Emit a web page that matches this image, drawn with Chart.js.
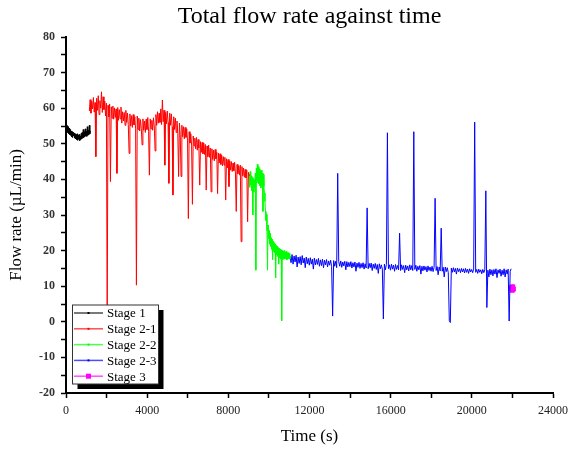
<!DOCTYPE html>
<html>
<head>
<meta charset="utf-8">
<script src="https://cdn.jsdelivr.net/npm/chart.js@4.4.0/dist/chart.umd.min.js"></script>
<style>
  html, body { margin: 0; padding: 0; background: #fff; }
  #wrap { width: 574px; height: 451px; position: relative; }
</style>
</head>
<body>
<div id="wrap"><canvas id="flow"></canvas></div>
<script>
// chart texts
const chartTitle = "Total flow rate against time";
const xTitle = "Time (s)";
const yTitle = "Flow rate (\u00b5L/min)";
const stageNames = ["Stage 1", "Stage 2-1", "Stage 2-2", "Stage 2-3", "Stage 3"];
const stageColors = ["#000000", "#ff0000", "#00ff00", "#0000ff", "#ff00ff"];

// axis ticks
const xTicks = [0, 4000, 8000, 12000, 16000, 20000, 24000];
const yTicks = [-20, -10, 0, 10, 20, 30, 40, 50, 60, 70, 80];

// Stage 1 (black)
const stage1Time = [0, 25, 50, 75, 100, 125, 150, 175, 200, 225,
  250, 275, 300, 325, 350, 375, 400, 425, 450, 475,
  500, 525, 550, 575, 600, 625, 650, 675, 700, 725,
  750, 775, 800, 825, 850, 875, 900, 925, 950, 975,
  1000, 1025, 1050, 1075, 1100, 1125, 1150, 1175, 1200];
const stage1Flow = [55.6, 53.8, 55.1, 53.2, 54.8, 52.9, 54.4, 52.6, 54.0, 52.4,
  53.6, 52.0, 53.4, 51.8, 53.2, 52.2, 53.0, 51.6, 52.8, 51.4,
  52.6, 51.2, 52.8, 51.0, 52.4, 51.3, 52.6, 50.9, 52.2, 51.2,
  52.9, 51.4, 53.2, 51.6, 54.0, 51.8, 53.4, 52.0, 54.2, 52.2,
  53.6, 52.1, 54.8, 52.4, 53.8, 52.6, 55.2, 52.8, 53.6];

// Stage 2-1 (red)
const stage21Time = [1150, 1190, 1230, 1270, 1310, 1350, 1390, 1430, 1470, 1510,
  1550, 1590, 1630, 1670, 1710, 1750, 1790, 1830, 1870, 1910,
  1950, 1990, 2030, 2070, 2110, 2150, 2190, 2230, 2270, 2310,
  2350, 2390, 2430, 2470, 2510, 2550, 2590, 2630, 2670, 2710,
  2750, 2790, 2830, 2870, 2910, 2950, 2990, 3030, 3070, 3110,
  3150, 3190, 3230, 3270, 3310, 3350, 3390, 3430, 3470, 3510,
  3550, 3590, 3630, 3670, 3710, 3750, 3790, 3830, 3870, 3910,
  3950, 3990, 4030, 4070, 4110, 4150, 4190, 4230, 4270, 4310,
  4350, 4390, 4430, 4470, 4510, 4550, 4590, 4630, 4670, 4710,
  4750, 4790, 4830, 4870, 4910, 4950, 4990, 5030, 5070, 5110,
  5150, 5190, 5230, 5270, 5310, 5350, 5390, 5430, 5470, 5510,
  5550, 5590, 5630, 5670, 5710, 5750, 5790, 5830, 5870, 5910,
  5950, 5990, 6030, 6070, 6110, 6150, 6190, 6230, 6270, 6310,
  6350, 6390, 6430, 6470, 6510, 6550, 6590, 6630, 6670, 6710,
  6750, 6790, 6830, 6870, 6910, 6950, 6990, 7030, 7070, 7110,
  7150, 7190, 7230, 7270, 7310, 7350, 7390, 7430, 7470, 7510,
  7550, 7590, 7630, 7670, 7710, 7750, 7790, 7830, 7870, 7910,
  7950, 7990, 8030, 8070, 8110, 8150, 8190, 8230, 8270, 8310,
  8350, 8390, 8430, 8470, 8510, 8550, 8590, 8630, 8670, 8710,
  8750, 8790, 8830, 8870, 8910, 8950, 8990, 9030];
const stage21Flow = [59.2, 62.4, 58.6, 61.9, 59.8, 63.0, 58.9, 61.6, 46.4, 62.8,
  59.4, 63.5, 58.2, 62.1, 60.0, 64.6, 58.8, 63.2, 59.6, 62.0,
  57.8, 61.4, 1.5, 60.8, 57.6, 61.2, 39.4, 60.4, 57.2, 60.6,
  56.9, 60.1, 57.4, 59.8, 41.7, 60.2, 56.6, 59.6, 57.0, 60.3,
  55.8, 59.0, 56.4, 58.8, 55.2, 59.4, 56.0, 58.6, 55.4, 47.3,
  58.4, 55.0, 57.9, 54.6, 58.2, 55.3, 57.6, 54.2, 10.3, 57.8,
  54.0, 57.2, 53.6, 56.8, 54.4, 49.7, 57.0, 53.8, 56.4, 53.2,
  56.9, 54.0, 57.4, 53.4, 41.2, 57.0, 54.2, 56.6, 53.8, 57.3,
  55.0, 48.0, 58.2, 55.2, 59.0, 55.8, 58.6, 56.0, 59.8, 55.4,
  62.3, 56.2, 59.4, 44.0, 58.8, 55.6, 59.2, 56.0, 38.9, 58.6,
  55.2, 58.4, 54.8, 35.6, 57.6, 54.0, 57.2, 53.2, 56.4, 52.8,
  40.8, 55.8, 52.6, 40.8, 55.2, 52.0, 54.8, 51.4, 54.6, 51.8,
  54.2, 50.8, 29.0, 53.4, 50.2, 52.8, 49.6, 33.0, 52.2, 49.4,
  51.6, 48.6, 51.8, 48.2, 51.2, 48.8, 38.4, 50.6, 47.6, 50.4,
  47.2, 50.2, 47.0, 49.8, 37.0, 49.4, 46.4, 49.6, 46.2, 48.8,
  36.5, 48.6, 45.6, 48.2, 45.2, 48.4, 45.8, 47.6, 36.0, 47.4,
  44.6, 47.2, 44.2, 46.8, 43.8, 46.4, 44.0, 46.2, 34.2, 45.8,
  43.2, 45.6, 38.0, 45.2, 42.6, 45.0, 42.2, 44.6, 42.4, 44.8,
  41.8, 31.0, 44.2, 41.6, 43.8, 41.2, 44.0, 22.5, 43.6, 41.0,
  43.2, 40.6, 42.8, 40.4, 42.6, 28.1, 42.0, 41.0];

// Stage 2-2 (green)
const stage22Time = [9030, 9055, 9080, 9105, 9130, 9155, 9180, 9205, 9230, 9255,
  9280, 9305, 9330, 9355, 9380, 9405, 9430, 9455, 9480, 9505,
  9530, 9555, 9580, 9605, 9630, 9655, 9680, 9705, 9730, 9755,
  9780, 9805, 9830, 9855, 9880, 9905, 9930, 9955, 9980, 10005,
  10030, 10055, 10080, 10105, 10130, 10155, 10180, 10205, 10230, 10255,
  10280, 10305, 10330, 10355, 10380, 10405, 10430, 10455, 10480, 10505,
  10530, 10555, 10580, 10605, 10630, 10655, 10680, 10705, 10730, 10755,
  10780, 10805, 10830, 10855, 10880, 10905, 10930, 10955, 10980, 11005,
  11030, 11040];
const stage22Flow = [41.5, 37.8, 42.2, 38.4, 41.0, 36.8, 40.6, 30.0, 40.2, 36.4,
  39.8, 37.6, 41.8, 14.5, 43.2, 39.0, 44.3, 39.6, 43.6, 38.8,
  43.0, 38.2, 42.4, 37.6, 42.6, 38.4, 41.8, 31.0, 41.4, 38.0,
  36.2, 33.8, 31.0, 28.4, 30.2, 25.6, 14.5, 27.2, 23.4, 25.6,
  21.8, 24.8, 21.2, 23.6, 20.4, 23.2, 17.5, 22.6, 19.8, 22.2,
  19.4, 21.8, 12.3, 21.4, 18.8, 21.2, 18.4, 20.8, 16.2, 20.6,
  18.0, 20.4, 17.6, 20.2, 0.3, 20.0, 17.4, 19.8, 17.8, 20.0,
  17.6, 19.6, 17.8, 19.8, 17.4, 19.4, 17.6, 19.4, 17.8, 19.2,
  17.6, 18.4];

// Stage 2-3 (blue)
const stage23Time = [11040, 11090, 11140, 11190, 11240, 11290, 11340, 11390, 11440, 11490,
  11540, 11590, 11640, 11690, 11740, 11790, 11840, 11890, 11940, 11990,
  12040, 12090, 12140, 12190, 12240, 12290, 12340, 12390, 12440, 12490,
  12540, 12590, 12640, 12690, 12740, 12790, 12840, 12890, 12940, 12990,
  13040, 13090, 13140, 13190, 13240, 13290, 13340, 13390, 13440, 13490,
  13540, 13590, 13640, 13690, 13740, 13790, 13840, 13890, 13940, 13990,
  14040, 14090, 14140, 14190, 14240, 14290, 14340, 14390, 14440, 14490,
  14540, 14590, 14640, 14690, 14740, 14790, 14840, 14890, 14940, 14990,
  15040, 15090, 15140, 15190, 15240, 15290, 15340, 15390, 15440, 15490,
  15540, 15590, 15640, 15690, 15740, 15790, 15840, 15890, 15940, 15990,
  16040, 16090, 16140, 16190, 16240, 16290, 16340, 16390, 16440, 16490,
  16540, 16590, 16640, 16690, 16740, 16790, 16840, 16890, 16940, 16990,
  17040, 17090, 17140, 17190, 17240, 17290, 17340, 17390, 17440, 17490,
  17540, 17590, 17640, 17690, 17740, 17790, 17840, 17890, 17940, 17990,
  18040, 18090, 18140, 18190, 18240, 18290, 18340, 18390, 18440, 18490,
  18540, 18590, 18640, 18690, 18740, 18790, 18840, 18890, 18940, 18990,
  19040, 19090, 19140, 19190, 19240, 19290, 19340, 19390, 19440, 19490,
  19540, 19590, 19640, 19690, 19740, 19790, 19840, 19890, 19940, 19990,
  20040, 20090, 20140, 20190, 20240, 20290, 20340, 20390, 20440, 20490,
  20540, 20590, 20640, 20690, 20740, 20790, 20840, 20890, 20940, 20990,
  21040, 21090, 21140, 21190, 21240, 21290, 21340, 21390, 21440, 21490,
  21540, 21590, 21640, 21690, 21740, 21790, 21840, 21890, 21940];
const stage23Flow = [18.4, 16.6, 18.9, 16.2, 18.5, 16.8, 18.7, 15.4, 18.2, 16.4,
  18.3, 16.0, 18.6, 16.5, 17.9, 15.2, 18.2, 16.3, 17.8, 15.9,
  18.0, 16.2, 17.6, 14.8, 17.9, 16.0, 17.5, 16.1, 17.8, 15.6,
  17.4, 15.8, 17.6, 15.2, 17.3, 16.0, 17.5, 15.4, 17.1, 15.9,
  17.3, 15.5, 1.6, 17.2, 15.6, 17.0, 15.2, 41.7, 16.9, 15.6,
  17.1, 15.3, 16.8, 15.7, 17.0, 14.6, 16.9, 15.4, 16.7, 15.5,
  16.9, 15.1, 16.6, 15.4, 16.8, 14.2, 16.5, 15.3, 16.7, 15.0,
  16.4, 15.2, 16.6, 14.8, 16.3, 15.1, 32.0, 14.9, 16.4, 15.2,
  16.5, 14.4, 16.2, 15.0, 16.4, 14.7, 16.1, 13.6, 16.3, 14.9,
  16.0, 14.8, 0.8, 16.2, 14.6, 16.1, 53.1, 14.9, 16.0, 14.5,
  16.2, 14.8, 15.9, 14.2, 16.1, 14.7, 15.8, 14.6, 24.9, 14.4,
  16.0, 14.7, 15.8, 13.8, 15.9, 14.6, 15.7, 14.3, 16.0, 14.6,
  15.8, 14.4, 53.4, 14.7, 15.9, 14.2, 15.6, 14.6, 15.8, 13.4,
  15.6, 14.3, 15.7, 14.5, 15.5, 14.0, 15.7, 14.4, 15.4, 14.2,
  15.6, 14.1, 15.3, 34.7, 14.4, 15.5, 13.2, 15.4, 14.3, 26.3,
  14.2, 15.3, 12.6, 15.4, 14.1, 15.2, 13.8, 0.3, -0.2, 15.1,
  13.9, 15.2, 14.0, 15.0, 13.4, 15.1, 14.1, 14.9, 13.8, 15.0,
  14.0, 14.9, 13.7, 15.0, 13.9, 14.8, 13.6, 14.9, 14.0, 14.7,
  13.8, 14.8, 56.1, 13.9, 14.7, 13.6, 14.8, 13.9, 14.6, 13.5,
  14.7, 13.8, 14.6, 36.8, 4.0, 14.5, 12.6, 14.8, 13.2, 14.6,
  12.9, 14.7, 13.4, 14.9, 12.4, 14.6, 13.6, 14.8, 12.8, 14.5,
  13.2, 14.9, 12.6, 14.6, 13.4, 14.8, 0.2, 14.2, 14.9];

// Stage 3 (magenta)
const stage3Time = [21960, 21990, 22010, 22040];
const stage3Flow = [9.6, 8.9, 9.8, 9.2];

function pts(t, v) {
  return t.map((x, i) => ({ x: x, y: v[i] }));
}

const serif = "'Liberation Serif', 'DejaVu Serif', serif";

// titel over plottet + legende med skygge nede til venstre
const extras = {
  id: 'extras',
  afterDraw(chart) {
    const c = chart.ctx;
    const a = chart.chartArea;
    c.save();
    c.fillStyle = '#000';
    c.font = '24px ' + serif;
    c.textAlign = 'center';
    c.textBaseline = 'middle';
    c.fillText(chartTitle, (a.left + a.right) / 2, 17);

    const bx = 72.5, by = 305, bw = 86, bh = 79;
    c.fillStyle = '#000';
    c.fillRect(bx + 5, by + 5, bw, bh);
    c.fillStyle = '#fff';
    c.fillRect(bx, by, bw, bh);
    c.strokeStyle = '#333';
    c.lineWidth = 1;
    c.strokeRect(bx, by, bw, bh);

    c.font = '13px ' + serif;
    c.textAlign = 'left';
    stageNames.forEach((name, i) => {
      const y = 313 + i * 15.8;
      c.strokeStyle = stageColors[i];
      c.globalAlpha = 0.7;
      c.lineWidth = 1.5;
      c.beginPath();
      c.moveTo(74, y);
      c.lineTo(103, y);
      c.stroke();
      c.globalAlpha = 1;
      c.fillStyle = stageColors[i];
      const s = i == 4 ? 5 : 2;
      c.fillRect(88.5 - s / 2, y - s / 2, s, s);
      c.fillStyle = '#000';
      c.fillText(name, 107, y + 1);
    });
    c.restore();
  }
};

const stageTimes = [stage1Time, stage21Time, stage22Time, stage23Time, stage3Time];
const stageFlows = [stage1Flow, stage21Flow, stage22Flow, stage23Flow, stage3Flow];

const datasets = stageNames.map((name, i) => ({
  label: name,
  data: pts(stageTimes[i], stageFlows[i]),
  borderColor: stageColors[i],
  backgroundColor: stageColors[i],
  borderWidth: 1,
  pointRadius: i == 4 ? 3 : 0,
  pointStyle: 'rect',
  showLine: i != 4,
  tension: 0
}));

new Chart(document.getElementById('flow'), {
  type: 'line',
  data: { datasets: datasets },
  plugins: [extras],
  options: {
    responsive: true,
    maintainAspectRatio: false,
    animation: false,
    events: [],
    layout: { padding: { left: 0, right: 19, top: 37, bottom: 0 } },
    plugins: {
      legend: { display: false },
      title: { display: false },
      tooltip: { enabled: false }
    },
    scales: {
      x: {
        type: 'linear',
        min: 0,
        max: 24000,
        afterFit: s => { s.height = 58; },
        border: { display: true, color: '#000', width: 2 },
        grid: { display: true, drawOnChartArea: false, drawTicks: true, tickLength: 5, tickColor: '#000', tickWidth: 1.5 },
        ticks: {
          stepSize: 2000,
          autoSkip: false,
          maxRotation: 0,
          color: '#222',
          font: { family: serif, size: 12 },
          padding: 6,
          callback: v => xTicks.includes(v) ? String(v) : ''
        },
        title: { display: true, text: xTitle, color: '#000', font: { family: serif, size: 17 }, padding: { top: 0, bottom: 4 } }
      },
      y: {
        type: 'linear',
        min: -20,
        max: 80,
        afterFit: s => { s.width = 66; },
        border: { display: true, color: '#000', width: 2 },
        grid: { display: true, drawOnChartArea: false, drawTicks: true, tickLength: 5, tickColor: '#000', tickWidth: 1.5 },
        ticks: {
          stepSize: 5,
          autoSkip: false,
          color: '#333',
          font: { family: serif, size: 12, weight: 'bold' },
          padding: 6,
          callback: v => yTicks.includes(v) ? String(v) : ''
        },
        title: { display: true, text: yTitle, color: '#000', font: { family: serif, size: 17 }, padding: { top: 6, bottom: 0 } }
      }
    }
  }
});
</script>
</body>
</html>
